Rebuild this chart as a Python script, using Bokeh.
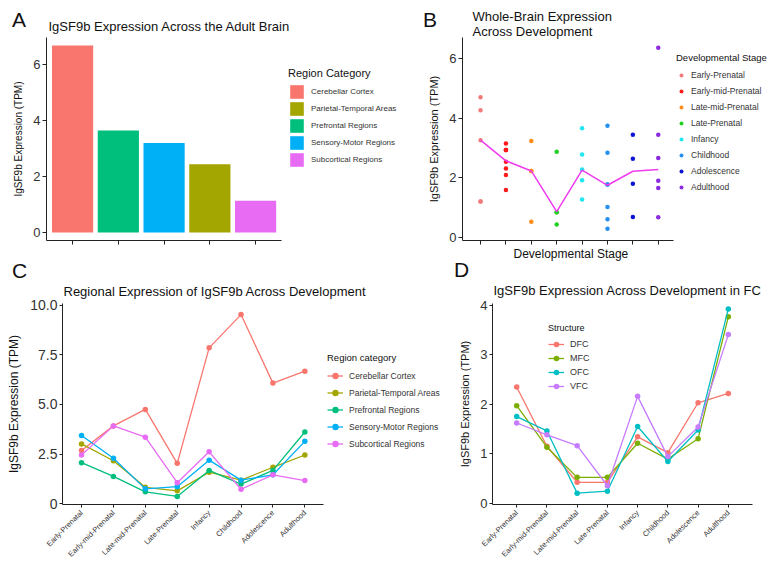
import math
from bokeh.plotting import figure
from bokeh.models import FactorRange, Range1d, Legend, LegendItem, Title, Div
from bokeh.layouts import row, column
from bokeh.embed import file_html
from bokeh.resources import INLINE

FONT = "Liberation Sans"
AXIS_COLOR = "#222222"
TEXT_COLOR = "#333333"

# ---------------- Panel A: adult brain ----------------
a_regions = ["Cerebellar Cortex", "Prefrontal Regions", "Sensory-Motor Regions",
             "Parietal-Temporal Areas", "Subcortical Regions"]
a_tpm = [6.67, 3.64, 3.19, 2.43, 1.13]
a_y_ticks = [0, 2, 4, 6]

region_names = ["Cerebellar Cortex", "Parietal-Temporal Areas", "Prefrontal Regions",
                "Sensory-Motor Regions", "Subcortical Regions"]
region_colors = ["#F8766D", "#A3A500", "#00BF7D", "#00B0F6", "#E76BF3"]

# ---------------- Panel B: whole brain across development ----------------
stages = ["Early-Prenatal", "Early-mid-Prenatal", "Late-mid-Prenatal", "Late-Prenatal",
          "Infancy", "Childhood", "Adolescence", "Adulthood"]
stage_colors = ["#F27A7A", "#FF1A1A", "#FF8C1A", "#22D022", "#22E6F0", "#2590F0",
                "#0A14D2", "#8A2BE2"]
b_early_prenatal = [4.70, 4.26, 3.26, 1.21, 1.21]
b_early_mid_prenatal = [3.15, 2.93, 2.93, 2.93, 2.54, 2.31, 2.09, 1.59]
b_late_mid_prenatal = [3.23, 2.23, 2.23, 0.53]
b_late_prenatal = [2.87, 0.85, 0.85, 0.44]
b_infancy = [3.66, 2.78, 2.28, 1.92, 1.27]
b_childhood = [3.74, 2.84, 1.78, 1.78, 1.02, 0.61, 0.29]
b_adolescence = [3.44, 2.64, 1.80, 0.69]
b_adulthood = [6.36, 3.44, 2.66, 1.90, 1.66, 0.68]
b_values = [b_early_prenatal, b_early_mid_prenatal, b_late_mid_prenatal, b_late_prenatal,
            b_infancy, b_childhood, b_adolescence, b_adulthood]
b_stage_mean = [3.26, 2.57, 2.23, 0.87, 2.26, 1.75, 2.22, 2.28]
b_y_ticks = [0, 2, 4, 6]

# ---------------- Panel C: regional expression across development ----------------
c_cerebellar = [2.68, 3.92, 4.75, 2.03, 7.86, 9.54, 6.08, 6.68]
c_parietal = [3.01, 2.16, 0.82, 0.64, 1.58, 1.18, 1.83, 2.45]
c_prefrontal = [2.06, 1.37, 0.59, 0.36, 1.67, 0.98, 1.67, 3.61]
c_sensory = [3.43, 2.29, 0.74, 0.85, 2.19, 1.18, 1.45, 3.14]
c_subcortical = [2.45, 3.92, 3.35, 1.05, 2.61, 0.72, 1.45, 1.16]
c_series = [c_cerebellar, c_parietal, c_prefrontal, c_sensory, c_subcortical]
c_y_ticks = [0, 2.5, 5, 7.5, 10]
c_y_tick_labels = ["0", "2.5", "5.0", "7.5", "10.0"]

# ---------------- Panel D: frontal cortex across development ----------------
d_structures = ["DFC", "MFC", "OFC", "VFC"]
d_colors = ["#F8766D", "#7CAE00", "#00BFC4", "#C77CFF"]
d_dfc = [2.35, 1.15, 0.42, 0.42, 1.34, 1.02, 2.03, 2.22]
d_mfc = [1.97, 1.13, 0.52, 0.52, 1.21, 0.89, 1.30, 3.77]
d_ofc = [1.75, 1.46, 0.20, 0.24, 1.55, 0.84, 1.48, 3.93]
d_vfc = [1.62, 1.38, 1.16, 0.35, 2.16, 0.94, 1.54, 3.41]
d_series = [d_dfc, d_mfc, d_ofc, d_vfc]
d_y_ticks = [0, 1, 2, 3, 4]

a_pos = list(range(len(a_regions)))
stage_pos = list(range(len(stages)))


def style(p, tick_size="13px", ylabel_size="10px"):
    p.outline_line_color = None
    p.xgrid.grid_line_color = None
    p.ygrid.grid_line_color = None
    p.axis.axis_line_color = AXIS_COLOR
    p.axis.axis_line_width = 1
    p.axis.major_tick_line_color = AXIS_COLOR
    p.axis.minor_tick_line_color = None
    p.axis.major_tick_in = 0
    p.axis.major_tick_out = 4
    p.axis.major_label_text_font = FONT
    p.axis.major_label_text_color = TEXT_COLOR
    p.axis.axis_label_text_font = FONT
    p.axis.axis_label_text_font_style = "normal"
    p.axis.axis_label_text_color = "#111111"
    p.yaxis.major_label_text_font_size = tick_size
    p.yaxis.axis_label_text_font_size = ylabel_size
    p.yaxis.major_label_standoff = 2
    p.yaxis.axis_label_standoff = 6


def hide_x_labels(p):
    p.xaxis.major_label_text_color = None
    p.xaxis.major_label_text_font_size = "2px"
    p.xaxis.major_label_standoff = 0


def add_title(p, text, offset, standoff, size="13px", place="above"):
    p.add_layout(Title(text=text, text_font=FONT, text_font_style="normal",
                       text_font_size=size, text_color="#111111", align="left",
                       offset=offset, standoff=standoff), place)


def style_legend(leg, title_size, label_size, glyph_w, item_h, standoff=6):
    leg.border_line_color = None
    leg.background_fill_alpha = 0
    leg.padding = 0
    leg.margin = 0
    leg.spacing = 0
    leg.glyph_width = glyph_w
    leg.glyph_height = item_h
    leg.label_height = item_h
    leg.label_standoff = standoff
    leg.label_text_font = FONT
    leg.label_text_font_size = label_size
    leg.label_text_color = TEXT_COLOR
    leg.title_text_font = FONT
    leg.title_text_font_style = "normal"
    leg.title_text_font_size = title_size
    leg.title_text_color = "#111111"
    leg.title_standoff = 4


def letter_div(text, left, top):
    return Div(text=text, width=24, height=24,
               styles={"position": "absolute", "left": f"{left}px", "top": f"{top}px",
                       "font-family": FONT, "font-size": "21px", "line-height": "21px",
                       "color": "#111111"})


# ================= Panel A =================
pA = figure(width=420, height=262, output_backend="svg", toolbar_location=None, title=None,
            x_range=Range1d(-0.57, 7.56), y_range=Range1d(-0.29, 6.96),
            min_border_left=46, min_border_right=2, min_border_top=37, min_border_bottom=22)
a_cols = [region_colors[region_names.index(r)] for r in a_regions]
bars = pA.vbar(x=a_pos, top=a_tpm, width=0.9, color=a_cols, line_color=None)
style(pA, tick_size="13px", ylabel_size="10px")
hide_x_labels(pA)
pA.xaxis.ticker = a_pos
pA.xaxis.bounds = (-0.57, 4.57)
pA.yaxis.ticker = a_y_ticks
pA.yaxis.axis_label = "IgSF9b Expression (TPM)"
add_title(pA, "IgSF9b Expression Across the Adult Brain", 2, 8)
legA = Legend(items=[LegendItem(label=n, renderers=[bars], index=a_regions.index(n))
                     for n in region_names],
              location=(242, 72), title="Region Category")
style_legend(legA, "11px", "8px", 17, 17)
pA.add_layout(legA)

# ================= Panel B =================
pB = figure(width=352, height=262, output_backend="svg", toolbar_location=None, title=None,
            x_range=Range1d(-0.71, 11.5), y_range=Range1d(-0.1, 6.7),
            min_border_left=42, min_border_right=0, min_border_top=37, min_border_bottom=22)
b_items = []
for i, (st, vals, col) in enumerate(zip(stages, b_values, stage_colors)):
    r = pB.scatter(x=[stage_pos[i]] * len(vals), y=vals, size=4.5, color=col, line_color=None)
    b_items.append(LegendItem(label=st, renderers=[r]))
pB.line(x=stage_pos, y=b_stage_mean, line_color="#EE3CEE", line_width=1.5)
style(pB, tick_size="13px", ylabel_size="11px")
hide_x_labels(pB)
pB.xaxis.ticker = stage_pos
pB.xaxis.bounds = (-0.71, 7.59)
pB.yaxis.ticker = b_y_ticks
pB.yaxis.axis_label = "IgSF9b Expression (TPM)"
add_title(pB, "Developmental Stage", 51, 0, size="12px", place="below")
add_title(pB, "Whole-Brain Expression\nAcross Development", 10, -2)
legB = Legend(items=b_items, location=(214, 45), title="Developmental Stage")
style_legend(legB, "9.5px", "8.5px", 10, 16, standoff=5)
pB.add_layout(legB)

# ================= Panel C =================
pC = figure(width=450, height=306, output_backend="svg", toolbar_location=None, title=None,
            x_range=Range1d(-0.596, 11.44), y_range=Range1d(-0.05, 10.1),
            min_border_left=62, min_border_right=4, min_border_top=38, min_border_bottom=64)
c_items = []
for name, vals, col in zip(region_names, c_series, region_colors):
    ln = pC.line(x=stage_pos, y=vals, line_color=col, line_width=1.3)
    sc = pC.scatter(x=stage_pos, y=vals, size=5.5, color=col, line_color=None)
    c_items.append(LegendItem(label=name, renderers=[ln, sc]))
style(pC, tick_size="14px", ylabel_size="12px")
pC.xaxis.ticker = stage_pos
pC.xaxis.bounds = (-0.596, 7.6)
pC.xaxis.major_label_overrides = dict(zip(stage_pos, stages))
pC.yaxis.ticker = c_y_ticks
pC.yaxis.major_label_overrides = dict(zip(c_y_ticks, c_y_tick_labels))
pC.yaxis.axis_label = "IgSF9b Expression (TPM)"
pC.xaxis.major_label_orientation = math.pi / 4
pC.xaxis.major_label_text_font_size = "7.5px"
pC.xaxis.major_label_standoff = 4
pC.axis.major_tick_out = 3
add_title(pC, "Regional Expression of IgSF9b Across Development", 1, 9)
legC = Legend(items=c_items, location=(265, 52), title="Region category")
style_legend(legC, "9.5px", "8.5px", 16, 17)
pC.add_layout(legC)

# ================= Panel D =================
pD = figure(width=322, height=306, output_backend="svg", toolbar_location=None, title=None,
            x_range=FactorRange(*stages, range_padding=0.3, range_padding_units="absolute"),
            y_range=Range1d(-0.03, 4.04),
            min_border_left=42, min_border_right=20, min_border_top=41, min_border_bottom=58)
d_items = []
for name, vals, col in zip(d_structures, d_series, d_colors):
    ln = pD.line(x=stages, y=vals, line_color=col, line_width=1.3)
    sc = pD.scatter(x=stages, y=vals, size=5.5, color=col, line_color=None)
    d_items.append(LegendItem(label=name, renderers=[ln, sc]))
style(pD, tick_size="13px", ylabel_size="11px")
pD.yaxis.ticker = d_y_ticks
pD.yaxis.axis_label = "IgSF9b Expression (TPM)"
pD.xaxis.major_label_orientation = math.pi / 4
pD.xaxis.major_label_text_font_size = "7.5px"
pD.xaxis.major_label_standoff = 4
pD.axis.major_tick_out = 3
add_title(pD, "IgSF9b Expression Across Development in FC", 1, 12)
legD = Legend(items=d_items, location=(56, 111), title="Structure")
style_legend(legD, "9px", "9px", 16, 14)
pD.add_layout(legD)

layout = column(row(pA, pB), row(pC, pD),
                letter_div("A", 7, 4), letter_div("B", 418, 4),
                letter_div("C", 7, 255), letter_div("D", 449, 254))
open("out.html", "w").write(file_html(layout, INLINE))
